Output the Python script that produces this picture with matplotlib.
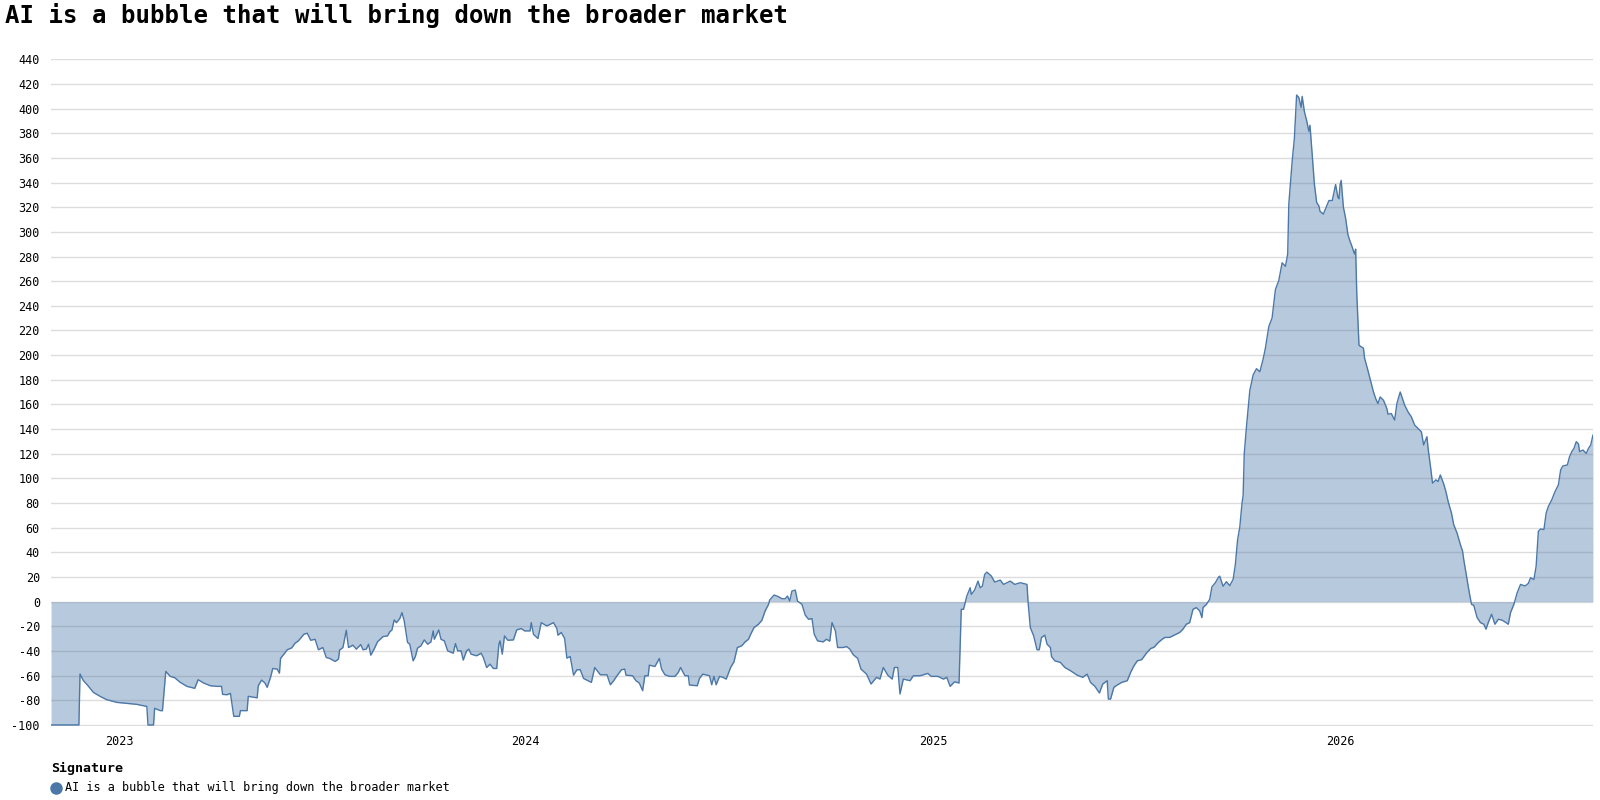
import matplotlib.pyplot as plt
import pandas as pd

plt.rcParams['font.family'] = ['DejaVu Sans Mono']

title = "AI is a bubble that will bring down the broader market"
legend_title = "Signature"
series_name = "AI is a bubble that will bring down the broader market"

dates = [
    "2022-11-01", "2022-11-26", "2022-11-27", "2022-11-30", "2022-12-04", "2022-12-09",
    "2022-12-15", "2022-12-21", "2022-12-30", "2023-01-08", "2023-01-17", "2023-01-26",
    "2023-01-27", "2023-02-01", "2023-02-02", "2023-02-07", "2023-02-09", "2023-02-12",
    "2023-02-16", "2023-02-20", "2023-02-25", "2023-03-03", "2023-03-10", "2023-03-13",
    "2023-03-18", "2023-03-24", "2023-03-30", "2023-04-03", "2023-04-04", "2023-04-08",
    "2023-04-11", "2023-04-14", "2023-04-19", "2023-04-20", "2023-04-26", "2023-04-27",
    "2023-05-02", "2023-05-05", "2023-05-06", "2023-05-09", "2023-05-12", "2023-05-14",
    "2023-05-17", "2023-05-19", "2023-05-23", "2023-05-25", "2023-05-26", "2023-05-29",
    "2023-06-01", "2023-06-05", "2023-06-08", "2023-06-11", "2023-06-16", "2023-06-19",
    "2023-06-22", "2023-06-26", "2023-06-29",
    "2023-07-03", "2023-07-06", "2023-07-09", "2023-07-14", "2023-07-17", "2023-07-18",
    "2023-07-21", "2023-07-24", "2023-07-26", "2023-07-30", "2023-08-02", "2023-08-06",
    "2023-08-08", "2023-08-11", "2023-08-13", "2023-08-15", "2023-08-18", "2023-08-21",
    "2023-08-26", "2023-08-30", "2023-09-01", "2023-09-03", "2023-09-05", "2023-09-07",
    "2023-09-10", "2023-09-12", "2023-09-14", "2023-09-17", "2023-09-19", "2023-09-22",
    "2023-09-24", "2023-09-26", "2023-09-29", "2023-10-02", "2023-10-05", "2023-10-08",
    "2023-10-10", "2023-10-11", "2023-10-15", "2023-10-17", "2023-10-20", "2023-10-23",
    "2023-10-28", "2023-10-30", "2023-11-01", "2023-11-04", "2023-11-06", "2023-11-09",
    "2023-11-11", "2023-11-13", "2023-11-18", "2023-11-22", "2023-11-24", "2023-11-27",
    "2023-11-30", "2023-12-03", "2023-12-06", "2023-12-08", "2023-12-09", "2023-12-11",
    "2023-12-13", "2023-12-16", "2023-12-21", "2023-12-24", "2023-12-28", "2023-12-31",
    "2024-01-05", "2024-01-06", "2024-01-08", "2024-01-12", "2024-01-15", "2024-01-20",
    "2024-01-23", "2024-01-26", "2024-01-29", "2024-01-30", "2024-02-02", "2024-02-05",
    "2024-02-07", "2024-02-10", "2024-02-13", "2024-02-16", "2024-02-19", "2024-02-22",
    "2024-02-26",
    "2024-02-29", "2024-03-03", "2024-03-08", "2024-03-14", "2024-03-17", "2024-03-20",
    "2024-03-23", "2024-03-27", "2024-03-30", "2024-03-31", "2024-04-06", "2024-04-09",
    "2024-04-12", "2024-04-15", "2024-04-17", "2024-04-20", "2024-04-21", "2024-04-26",
    "2024-04-30", "2024-05-02", "2024-05-05", "2024-05-09", "2024-05-14", "2024-05-17",
    "2024-05-19", "2024-05-23", "2024-05-26", "2024-05-27", "2024-06-03", "2024-06-05",
    "2024-06-08", "2024-06-14", "2024-06-16", "2024-06-18", "2024-06-20", "2024-06-23",
    "2024-06-26", "2024-06-29", "2024-07-03", "2024-07-06", "2024-07-09", "2024-07-13",
    "2024-07-16", "2024-07-19", "2024-07-21", "2024-07-24", "2024-07-28", "2024-07-31",
    "2024-08-03", "2024-08-06", "2024-08-07", "2024-08-11", "2024-08-15", "2024-08-18",
    "2024-08-21", "2024-08-23", "2024-08-25", "2024-08-27", "2024-08-30", "2024-09-01",
    "2024-09-05", "2024-09-08", "2024-09-11", "2024-09-14", "2024-09-16", "2024-09-19",
    "2024-09-24", "2024-09-27", "2024-09-30", "2024-10-02", "2024-10-05", "2024-10-07",
    "2024-10-12", "2024-10-15", "2024-10-18",
    "2024-10-21", "2024-10-25", "2024-10-28", "2024-11-02", "2024-11-06", "2024-11-11",
    "2024-11-14", "2024-11-17", "2024-11-21", "2024-11-25", "2024-11-27", "2024-11-30",
    "2024-12-02", "2024-12-05", "2024-12-11", "2024-12-14", "2024-12-20", "2024-12-27",
    "2024-12-30", "2025-01-05", "2025-01-10", "2025-01-13", "2025-01-16", "2025-01-20",
    "2025-01-24", "2025-01-26", "2025-01-28", "2025-01-31", "2025-02-03", "2025-02-04",
    "2025-02-07", "2025-02-10", "2025-02-12", "2025-02-14", "2025-02-16", "2025-02-18",
    "2025-02-22", "2025-02-25", "2025-03-02", "2025-03-05", "2025-03-11", "2025-03-15",
    "2025-03-20", "2025-03-26", "2025-03-27", "2025-03-29", "2025-04-01", "2025-04-04",
    "2025-04-06", "2025-04-08", "2025-04-11", "2025-04-13", "2025-04-16", "2025-04-17",
    "2025-04-20", "2025-04-25", "2025-04-29", "2025-05-04", "2025-05-10", "2025-05-15",
    "2025-05-19", "2025-05-22", "2025-05-26", "2025-05-30", "2025-06-02", "2025-06-06",
    "2025-06-07", "2025-06-09", "2025-06-12", "2025-06-15", "2025-06-19", "2025-06-24",
    "2025-06-27", "2025-06-30", "2025-07-03", "2025-07-07", "2025-07-11", "2025-07-15",
    "2025-07-18", "2025-07-22", "2025-07-26", "2025-07-28", "2025-08-01", "2025-08-10",
    "2025-08-13", "2025-08-16", "2025-08-19", "2025-08-22", "2025-08-25", "2025-08-28",
    "2025-08-30", "2025-08-31", "2025-09-03", "2025-09-06", "2025-09-08", "2025-09-11",
    "2025-09-14", "2025-09-15", "2025-09-18", "2025-09-21", "2025-09-24", "2025-09-27",
    "2025-09-29", "2025-10-01", "2025-10-03", "2025-10-05", "2025-10-06", "2025-10-07",
    "2025-10-09", "2025-10-12", "2025-10-15", "2025-10-18", "2025-10-21", "2025-10-24",
    "2025-10-26", "2025-10-29", "2025-11-01", "2025-11-04", "2025-11-07", "2025-11-10",
    "2025-11-13", "2025-11-15", "2025-11-16", "2025-11-19", "2025-11-21", "2025-11-23",
    "2025-11-25", "2025-11-27", "2025-11-28", "2025-11-30", "2025-12-02", "2025-12-04",
    "2025-12-05", "2025-12-07", "2025-12-09", "2025-12-11", "2025-12-13", "2025-12-14",
    "2025-12-17", "2025-12-20", "2025-12-22", "2025-12-25", "2025-12-28", "2025-12-30",
    "2025-12-31", "2026-01-01", "2026-01-02", "2026-01-04", "2026-01-06", "2026-01-08",
    "2026-01-10", "2026-01-11", "2026-01-14", "2026-01-15", "2026-01-16", "2026-01-18",
    "2026-01-22", "2026-01-23", "2026-01-26", "2026-01-29", "2026-01-31", "2026-02-02",
    "2026-02-04", "2026-02-06", "2026-02-09", "2026-02-12", "2026-02-13", "2026-02-16",
    "2026-02-19", "2026-02-21", "2026-02-24", "2026-02-25", "2026-02-28", "2026-03-03",
    "2026-03-06", "2026-03-09", "2026-03-12", "2026-03-15", "2026-03-17", "2026-03-20",
    "2026-03-21", "2026-03-23", "2026-03-25", "2026-03-28", "2026-03-30", "2026-04-01",
    "2026-04-04", "2026-04-06", "2026-04-08", "2026-04-11", "2026-04-13", "2026-04-16",
    "2026-04-19", "2026-04-21", "2026-04-22", "2026-04-25", "2026-04-27", "2026-04-29",
    "2026-05-01", "2026-05-04", "2026-05-07", "2026-05-10", "2026-05-12", "2026-05-14",
    "2026-05-17", "2026-05-20", "2026-05-23", "2026-05-26", "2026-05-29", "2026-06-01",
    "2026-06-03", "2026-06-06", "2026-06-09", "2026-06-12", "2026-06-16", "2026-06-19",
    "2026-06-21", "2026-06-24", "2026-06-26", "2026-06-28", "2026-06-30", "2026-07-03",
    "2026-07-05", "2026-07-07", "2026-07-10", "2026-07-13", "2026-07-16", "2026-07-18",
    "2026-07-20", "2026-07-24", "2026-07-26", "2026-07-28", "2026-07-30", "2026-08-01",
    "2026-08-03", "2026-08-04", "2026-08-07", "2026-08-10", "2026-08-12", "2026-08-14",
    "2026-08-16",
]

values = [
    -100, -100, -58.7, -64, -68, -73.6,
    -76.8, -79.5, -81.7, -82.5, -83.3, -85,
    -100, -100, -86.5, -88.4, -88.4, -56.6,
    -60.6, -61.7, -65.5, -68.7, -70.3, -63.3,
    -66, -68.2, -68.7, -68.7, -75.2, -75.5,
    -74.4, -93, -93, -88.4, -88.4, -76.8,
    -77.5, -78, -68.2, -63.6, -66, -69.5,
    -61.4, -54.2, -54.7, -58, -46, -42.6,
    -39, -37.5, -33.7, -31.8, -26.4, -25.6,
    -31.3, -30.5, -39,
    -37.2, -45.3, -46, -48.5, -46.6, -39.3,
    -37.2, -23.2, -37.2, -35.3, -38.5, -34.8,
    -39, -38.5, -34.5, -43.4, -38.5, -32.6,
    -28.3, -27.8, -24.5, -22.9, -14.8, -17,
    -13.7, -8.9, -15.6, -33.1, -34.5, -48,
    -44.5, -37.7, -35.8, -31, -34.5, -32.6,
    -23.7, -30.5, -22.9, -30.5, -31.8, -39.9,
    -41.8, -34, -39.9, -39.9, -47.4, -39.9,
    -38.5, -42.6, -43.9, -41.8, -45.3, -53.4,
    -50.7, -54.2, -54.2, -34.5, -31.8, -42.6,
    -27.8, -31.3, -31, -22.9, -21.8, -23.7,
    -23.7, -17, -26.4, -29.9, -17, -19.7,
    -18.3, -17, -21.8, -27.2, -25, -29.9,
    -45.8, -44.5, -59.6, -55.2, -55.2, -62.3,
    -64.1,
    -65.5, -53.4, -59.3, -59.3, -67.4, -64.1,
    -60.1, -55.2, -54.7, -59.6, -60.1, -64.1,
    -66, -72.2, -60.1, -60.1, -51.5, -52.6,
    -46.1, -54.7, -59.3, -60.6, -60.6, -57.4,
    -53.4, -60.1, -60.1, -67.6, -68.2, -62.3,
    -58.8, -60.1, -67.4, -60.6, -67.4, -60.6,
    -61.4, -62.8, -53.4, -48.8, -37.2, -35.8,
    -32.6, -30.5, -26.4, -21, -18.3, -15.1,
    -7.5, -2.2, 1.3, 5.4, 4, 2.4,
    2.4, 4.6, 0.5, 8.6, 9.4, 0.5,
    -2.2, -11, -14.3, -13.7, -26.4, -31.8,
    -32.6, -30.5, -32, -17, -23.7, -37.2,
    -37.2, -36.4, -38.5,
    -43, -46, -54.7, -58.8, -66.8, -61.4,
    -62.8, -53.4, -59.6, -62.8, -53.4, -53.4,
    -74.9, -62.8, -64.1, -60.1, -60.1, -58.2,
    -60.6, -60.6, -62.8, -61.4, -68.7, -65,
    -66, -6.2, -6.2, 4.6, 11.3, 5.9,
    9.4, 16.7, 11.3, 12.7, 22.1, 24,
    20.8, 15.9, 17.5, 14, 16.7, 14,
    15.4, 14, -0.8, -21, -27.8, -39,
    -39, -29.1, -27.2, -34.5, -37.2, -44.5,
    -48, -49.3, -53.4, -56, -59.6, -61.4,
    -58.8, -65.5, -68.7, -74.1, -66.8, -64.1,
    -79, -79, -69.5, -67.6, -65.5, -64.1,
    -57.4, -52, -48, -47, -42, -38,
    -37, -33, -30, -29, -29, -25,
    -22.3, -18.3, -17, -6.2, -4.8, -7.5,
    -12.9, -4.8, -2.2, 1.9, 12.1, 15.3,
    20, 20.7, 12.5, 16.2, 13, 18,
    30, 50, 60.5, 80, 86, 120,
    141.9, 171.3, 184, 189, 186.5, 197,
    205.7, 223, 230.2, 253.3, 260.5, 274.9,
    272, 282.1, 322.5, 357.1, 375.9, 411,
    409, 401, 409.9, 397.5, 390.3, 381.6,
    386.5, 362.9, 338.4, 323.9, 321, 316.7,
    314.4, 321, 325.4, 325.4, 338.4, 328.3,
    326.8, 338, 341.8, 320, 311, 298,
    292.2, 290, 282, 286, 250, 208,
    205.6, 197.6, 187.6, 176.9, 170.1, 164.7,
    160.7, 166.1, 163.4, 156.7, 152.1, 152.6,
    147.3, 160.7, 170.1, 167.4, 159.4, 154,
    149.9, 143.2, 140.5, 137.8, 127.1, 133.8,
    124.4, 110.9, 96.1, 98.8, 97.5, 102.8,
    95.6, 89.4, 81.3, 71.9, 62.5, 55.7,
    46.3, 40.9, 34.2, 18, 7.3, -2.2,
    -3, -12.9, -17, -18.3, -22.3, -17,
    -10.2, -18.3, -14.3, -14.8, -16.4, -18.3,
    -8.9, -2.2, 7.3, 14, 12.7, 14.8,
    19.4, 18, 28.8, 57.1, 59, 58.5,
    71.9, 77.3, 82.6, 89.4, 94.8, 106.9,
    110.1, 110.9, 117.6, 121.7, 124.4, 129.8,
    128, 121.7, 123, 120.3, 124.4, 127.1,
    135.1,
]

y_ticks = list(range(-100, 441, 20))
year_ticks = ["2023-01-01", "2024-01-01", "2025-01-01", "2026-01-01"]
year_labels = ["2023", "2024", "2025", "2026"]

x = pd.to_datetime(dates)
color = "#4c78a8"

fig = plt.figure(figsize=(16, 8), dpi=100)
ax = fig.add_axes([0.0319, 0.0929, 0.9637, 0.833])

ax.fill_between(x, values, 0, color=color, alpha=0.4, linewidth=0, zorder=2)
ax.plot(x, values, color=color, linewidth=1.0, zorder=3)

ax.set_xlim(x[0], x[-1])
ax.set_ylim(-100.6, 440)
ax.set_yticks(y_ticks)
ax.set_yticklabels([str(v) for v in y_ticks])
ax.set_xticks(pd.to_datetime(year_ticks))
ax.set_xticklabels(year_labels)

ax.grid(axis="y", color="#dddddd", linewidth=1.0, zorder=1)
ax.set_axisbelow(True)
for s in ax.spines.values():
    s.set_visible(False)
ax.tick_params(axis="both", length=0, labelsize=8.5, colors="#000000")
ax.tick_params(axis="y", pad=8)
ax.tick_params(axis="x", pad=7)

fig.text(0.003, 0.981, title, fontsize=17.3, fontweight="bold", va="center", ha="left")

# legend block under the plot
fig.text(0.0319, 0.040, legend_title, fontsize=9.5, fontweight="bold", va="center", ha="left")
fig.add_artist(plt.Line2D([0.0348], [0.0155], marker="o", markersize=8, color=color,
                          linestyle="none", transform=fig.transFigure))
fig.text(0.0405, 0.0155, series_name, fontsize=8.5, va="center", ha="left")

fig.savefig("out.png", dpi=100)
